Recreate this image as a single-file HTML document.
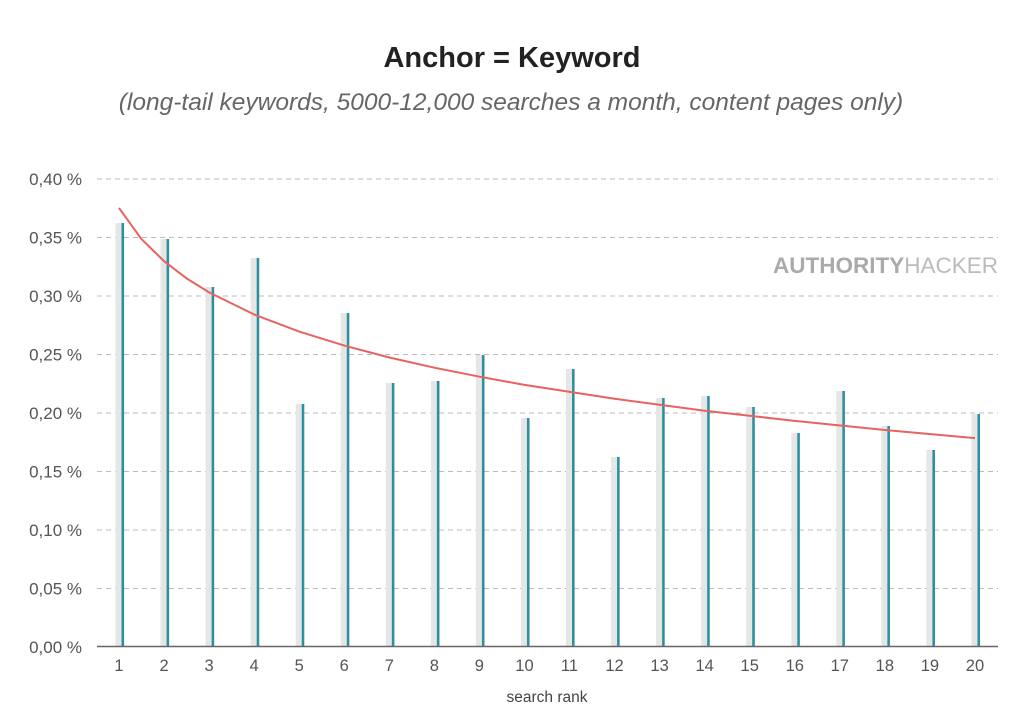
<!DOCTYPE html>
<html><head><meta charset="utf-8"><style>
html,body{margin:0;padding:0;background:#fff;}
svg{display:block;font-family:"Liberation Sans",sans-serif;}
</style></head><body>
<svg width="1024" height="727" viewBox="0 0 1024 727" xmlns="http://www.w3.org/2000/svg">
<text x="512" y="67" text-anchor="middle" font-size="29" font-weight="bold" fill="#222">Anchor = Keyword</text>
<text x="511" y="110" text-anchor="middle" font-size="24.5" font-style="italic" fill="#666">(long-tail keywords, 5000-12,000 searches a month, content pages only)</text>
<g stroke="#bbb" stroke-dasharray="5,4" stroke-width="1">
<line x1="97" y1="179" x2="998" y2="179"/><line x1="97" y1="237.5" x2="998" y2="237.5"/>
<line x1="97" y1="296" x2="998" y2="296"/><line x1="97" y1="354.5" x2="998" y2="354.5"/>
<line x1="97" y1="413" x2="998" y2="413"/><line x1="97" y1="471.5" x2="998" y2="471.5"/>
<line x1="97" y1="530" x2="998" y2="530"/><line x1="97" y1="588.5" x2="998" y2="588.5"/>
</g>
<g font-size="17" fill="#555" text-anchor="end">
<text x="82" y="185">0,40 %</text><text x="82" y="243.5">0,35 %</text><text x="82" y="302">0,30 %</text>
<text x="82" y="360.5">0,25 %</text><text x="82" y="419">0,20 %</text><text x="82" y="477.5">0,15 %</text>
<text x="82" y="536">0,10 %</text><text x="82" y="594.5">0,05 %</text><text x="82" y="653">0,00 %</text>
</g>
<text x="998" y="273" text-anchor="end" font-size="22.5" fill="#aaa"><tspan font-weight="bold">AUTHORITY</tspan><tspan fill="#bbb">HACKER</tspan></text>
<g id="bars"></g>
<line x1="97" y1="646.5" x2="998" y2="646.5" stroke="#666" stroke-width="1.5"/>
<g id="xl" font-size="16.5" fill="#555" text-anchor="middle"></g>
<polyline fill="none" stroke="#e8625f" stroke-width="2" points="119,208 141.5,239.1 164.1,261.2 186.6,278.4 209.1,292.4 254.2,314.5 299.2,331.6 344.3,345.6 389.3,357.5 434.4,367.7 479.5,376.7 524.5,384.9 614.6,398.8 704.7,410.7 794.8,420.9 884.9,430 975,438.1"/>
<text x="547" y="702" text-anchor="middle" font-size="15.5" fill="#444">search rank</text>
<script>
var tops=[223,239,287,258,404,313,383,381,355,418,369,457,398,396,407,433,391,426,450,414];
var b=document.getElementById('bars'),xl=document.getElementById('xl'),ns='http://www.w3.org/2000/svg';
tops.forEach(function(t,i){var c=119+i*45.05;
var g=document.createElementNS(ns,'rect');g.setAttribute('x',c-3.5);g.setAttribute('y',t);g.setAttribute('width',6);g.setAttribute('height',646-t);g.setAttribute('fill','#e6e6e6');b.appendChild(g);
var r=document.createElementNS(ns,'rect');r.setAttribute('x',c+2.5);r.setAttribute('y',t);r.setAttribute('width',2.6);r.setAttribute('height',646-t);r.setAttribute('fill','#2e8fa0');b.appendChild(r);
var tx=document.createElementNS(ns,'text');tx.setAttribute('x',c);tx.setAttribute('y',671);tx.textContent=i+1;xl.appendChild(tx);});
</script>
</svg>
</body></html>
